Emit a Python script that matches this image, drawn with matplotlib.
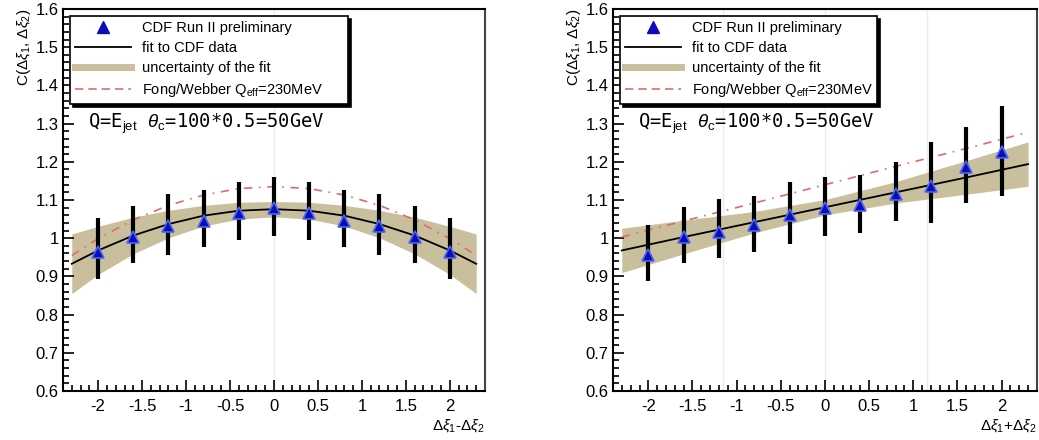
import numpy as np
import matplotlib.pyplot as plt
from matplotlib.ticker import MultipleLocator, FormatStrFormatter

# measured points (both panels share the same x)
x_pts = [-2.0, -1.6, -1.2, -0.8, -0.4, 0.0, 0.4, 0.8, 1.2, 1.6, 2.0]

# left: C vs dxi1 - dxi2
left_y = [0.965, 1.003, 1.031, 1.044, 1.066, 1.078, 1.066, 1.044, 1.031, 1.003, 0.965]
left_hi = [1.053, 1.084, 1.117, 1.125, 1.148, 1.161, 1.148, 1.125, 1.117, 1.084, 1.053]
left_lo = [0.894, 0.934, 0.956, 0.978, 0.996, 1.006, 0.996, 0.978, 0.956, 0.934, 0.894]

left_fx = [-2.3, -2.0, -1.6, -1.2, -0.8, -0.4, 0.0, 0.4, 0.8, 1.2, 1.6, 2.0, 2.3]
left_fit = [0.933, 0.968, 1.007, 1.037, 1.059, 1.072, 1.076, 1.072, 1.059, 1.037, 1.007, 0.968, 0.933]
left_band_hi = [1.011, 1.031, 1.055, 1.073, 1.086, 1.094, 1.096, 1.094, 1.086, 1.073, 1.055, 1.031, 1.011]
left_band_lo = [0.855, 0.905, 0.959, 1.001, 1.032, 1.050, 1.056, 1.050, 1.032, 1.001, 0.959, 0.905, 0.855]
left_fw = [0.955, 0.999, 1.048, 1.086, 1.113, 1.130, 1.135, 1.130, 1.113, 1.086, 1.048, 0.999, 0.955]
left_grid = [0.0]

# right: C vs dxi1 + dxi2
right_y = [0.956, 1.003, 1.016, 1.034, 1.062, 1.080, 1.086, 1.115, 1.137, 1.186, 1.225]
right_hi = [1.034, 1.081, 1.102, 1.110, 1.146, 1.161, 1.165, 1.199, 1.252, 1.290, 1.345]
right_lo = [0.887, 0.934, 0.947, 0.963, 0.984, 1.007, 1.013, 1.044, 1.040, 1.093, 1.110]

right_fx = [-2.3, -1.6, -0.8, 0.0, 0.8, 1.6, 2.3]
right_fit = [0.968, 1.003, 1.042, 1.081, 1.120, 1.159, 1.194]
right_band_hi = [1.026, 1.047, 1.070, 1.101, 1.148, 1.203, 1.252]
right_band_lo = [0.910, 0.959, 1.014, 1.061, 1.092, 1.115, 1.136]
right_fw = [1.003, 1.045, 1.092, 1.140, 1.188, 1.235, 1.277]
right_grid = [-1.15, 0.0, 1.15]

band_col = '#c9bf9c'
red_col = '#e06a6a'
blue_col = '#0c0cb8'

plt.rcParams['font.family'] = ['Liberation Sans', 'DejaVu Sans']
plt.rcParams['mathtext.fontset'] = 'custom'
plt.rcParams['mathtext.rm'] = 'Liberation Sans'
plt.rcParams['mathtext.it'] = 'Liberation Sans:italic'

fig = plt.figure(figsize=(10.39, 4.40), dpi=100)
ax1 = fig.add_axes([0.0606, 0.1114, 0.4062, 0.8681])
ax2 = fig.add_axes([0.5900, 0.1114, 0.4080, 0.8681])


def panel(ax, y, hi, lo, fx, fit, bhi, blo, fw, grid, xlab, legw):
    for g in grid:
        ax.axvline(g, color='#ececec', lw=1.0, zorder=0)
    ax.fill_between(fx, blo, bhi, color=band_col, lw=0, zorder=1)
    ax.plot(fx, fw, color=red_col, lw=1.2, ls=(0, (5, 4, 1, 4)), zorder=2)
    ax.plot(fx, fit, color='black', lw=1.3, zorder=3)
    yarr = np.array(y)
    err = [yarr - np.array(lo), np.array(hi) - yarr]
    ax.errorbar(x_pts, y, yerr=err, fmt='none', ecolor='black', elinewidth=3, capsize=0, zorder=4)
    ax.plot(x_pts, y, ls='none', marker='^', ms=9, color=blue_col,
            mec='#4a68f0', mew=1.2, zorder=5)

    ax.set_xlim(-2.4, 2.4)
    ax.set_ylim(0.6, 1.6)
    ax.xaxis.set_major_locator(MultipleLocator(0.5))
    ax.xaxis.set_minor_locator(MultipleLocator(0.1))
    ax.yaxis.set_major_locator(MultipleLocator(0.1))
    ax.yaxis.set_minor_locator(MultipleLocator(0.02))
    ax.xaxis.set_major_formatter(FormatStrFormatter('%g'))
    ax.yaxis.set_major_formatter(FormatStrFormatter('%g'))
    ax.tick_params(which='both', direction='in', top=False, right=False, labelsize=12, width=1.2)
    ax.tick_params(which='major', length=8)
    ax.tick_params(which='minor', length=4)
    ax.tick_params(axis='x', pad=6)
    ax.tick_params(axis='y', pad=3)
    for s in ax.spines.values():
        s.set_linewidth(1.5)
    ax.spines['right'].set_color('#444444')

    ax.set_ylabel(r'C($\Delta\xi_{1}$, $\Delta\xi_{2}$)', fontsize=11, loc='top', labelpad=2)
    ax.set_xlabel(xlab, fontsize=11, loc='right', labelpad=2)

    ax.text(-2.12, 1.298, r'Q=E$_{\mathrm{jet}}$ $\theta_{\mathrm{c}}$=100*0.5=50GeV', fontsize=13.5,
            family='DejaVu Sans Mono', va='center', ha='left')

    h1, = ax.plot([], [], ls='none', marker='^', ms=9, color=blue_col)
    h2, = ax.plot([], [], color='black', lw=1.3)
    h3, = ax.plot([], [], color=band_col, lw=5)
    h4, = ax.plot([], [], color=red_col, lw=1.2, ls=(0, (5, 3)))
    leg = ax.legend([h1, h2, h3, h4],
                    ['CDF Run II preliminary', 'fit to CDF data', 'uncertainty of the fit',
                     r'Fong/Webber Q$_{\mathrm{eff}}$=230MeV'],
                    loc='upper left', bbox_to_anchor=(0.0, 1.0, legw, 0.0), mode='expand',
                    fancybox=False, framealpha=1, edgecolor='black', fontsize=10.5,
                    handlelength=3.8, labelspacing=0.4, borderpad=0.35,
                    shadow={'facecolor': 'black', 'edgecolor': 'black', 'alpha': 1})
    leg.get_frame().set_linewidth(1.2)


panel(ax1, left_y, left_hi, left_lo, left_fx, left_fit, left_band_hi, left_band_lo,
      left_fw, left_grid, r'$\Delta\xi_{1}$-$\Delta\xi_{2}$', 0.692)
panel(ax2, right_y, right_hi, right_lo, right_fx, right_fit, right_band_hi, right_band_lo,
      right_fw, right_grid, r'$\Delta\xi_{1}$+$\Delta\xi_{2}$', 0.64)

fig.savefig('out.png', dpi=100)
